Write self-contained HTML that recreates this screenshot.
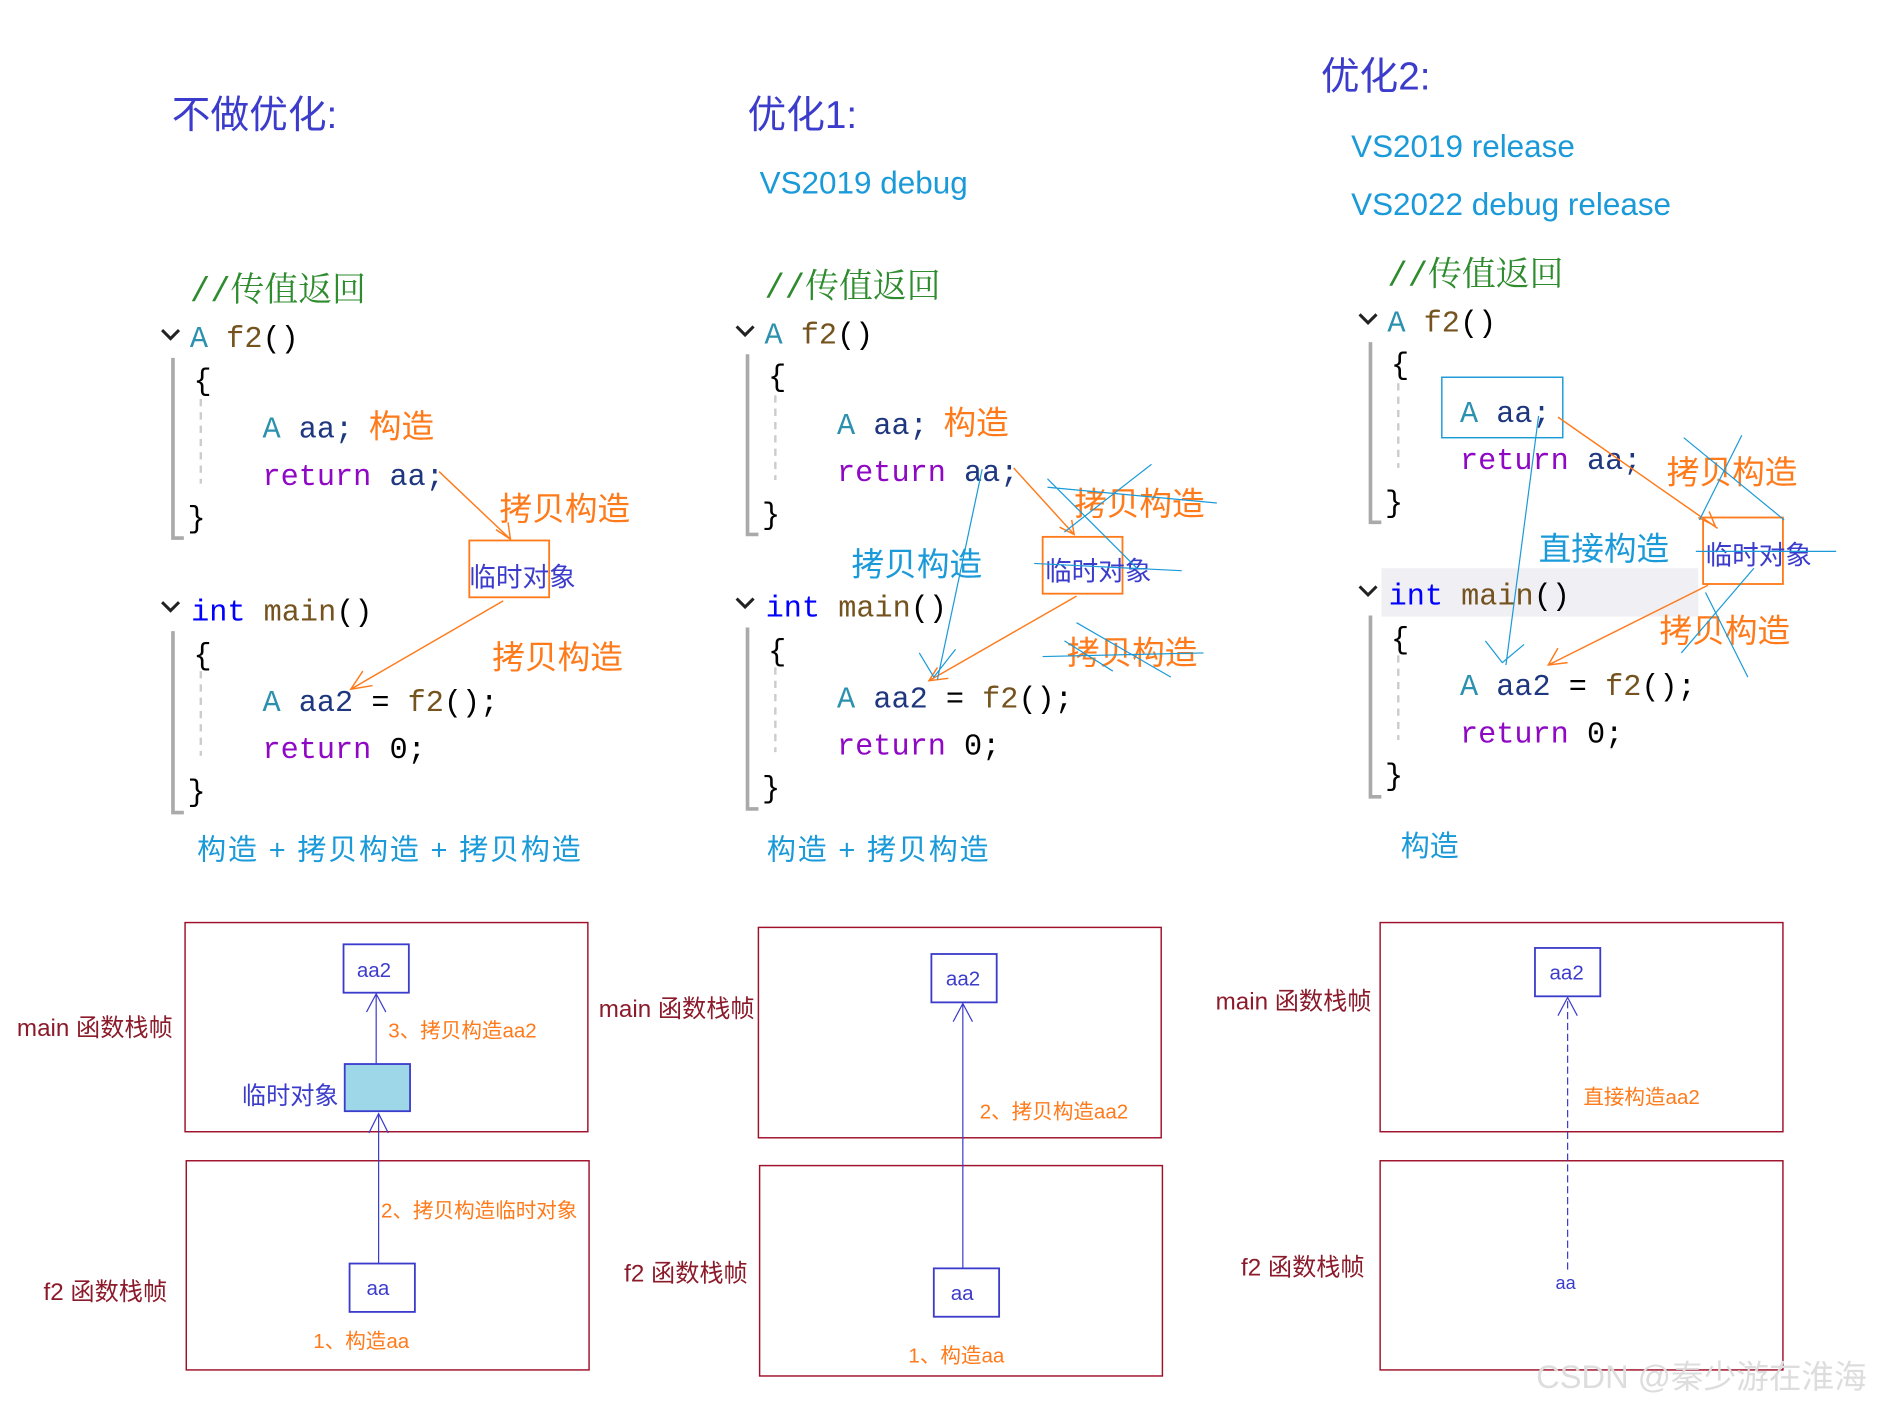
<!DOCTYPE html>
<html><head><meta charset="utf-8"><style>
html,body{margin:0;padding:0;background:#fff;}
svg{display:block}
.c{font-family:"Liberation Mono","Noto Serif CJK SC",monospace;font-size:25px;}
.cm{fill:#2e8b2e;font-family:"Liberation Mono","Noto Serif CJK SC",monospace;font-size:28px}
.ty{fill:#2b91af}.fn{fill:#74531f}.vr{fill:#1f377f}.kw{fill:#8f08c4}.in{fill:#0000ff}.pl{fill:#000}
.or{fill:#ff7a1a;font-family:"Liberation Sans","Noto Sans CJK SC",sans-serif;font-size:27px}
.bl{fill:#1a9ad8;font-family:"Liberation Sans","Noto Sans CJK SC",sans-serif;}
.pu{fill:#3c3ccc;font-family:"Liberation Sans","Noto Sans CJK SC",sans-serif;}
.dr{fill:#8b1a2a;font-family:"Liberation Sans","Noto Sans CJK SC",sans-serif;font-size:20px}
.o2{fill:#ff7a1a;font-family:"Liberation Sans","Noto Sans CJK SC",sans-serif;font-size:17px}
</style></head><body>
<svg width="1893" height="1405" viewBox="0 0 1565 1162" preserveAspectRatio="none">
<text x="142" y="106" class="pu" font-size="32">不做优化:</text>
<text x="618" y="106" class="pu" font-size="32">优化1:</text>
<text x="1092" y="74" class="pu" font-size="32">优化2:</text>
<text x="628" y="160" class="bl" font-size="26">VS2019 debug</text>
<text x="1117" y="130" class="bl" font-size="26">VS2019 release</text>
<text x="1117" y="178" class="bl" font-size="26">VS2022 debug release</text>

<rect x="1142" y="470" width="262" height="40" fill="#f0f0f4"/>

<g id="code1">
<text x="157" y="249" class="cm">//传值返回</text>
<path d="M134 273 l7 7 l7 -7" stroke="#222" stroke-width="2.5" fill="none"/>
<text x="157" y="287" class="c"><tspan class="ty">A</tspan> <tspan class="fn">f2</tspan><tspan class="pl">()</tspan></text>
<path d="M143 296 V445 H152" stroke="#aaa" stroke-width="3" fill="none"/>
<path d="M166 330 V400" stroke="#ccc" stroke-width="2" stroke-dasharray="6,5"/>
<text x="160" y="322" class="c pl">{</text>
<text x="217" y="362" class="c"><tspan class="ty">A</tspan> <tspan class="vr">aa;</tspan></text>
<text x="217" y="401" class="c"><tspan class="kw">return</tspan> <tspan class="vr">aa;</tspan></text>
<text x="155" y="436" class="c pl">}</text>
<path d="M134 498 l7 7 l7 -7" stroke="#222" stroke-width="2.5" fill="none"/>
<text x="158" y="513" class="c"><tspan class="in">int</tspan> <tspan class="fn">main</tspan><tspan class="pl">()</tspan></text>
<path d="M143 522 V672 H152" stroke="#aaa" stroke-width="3" fill="none"/>
<path d="M166 555 V625" stroke="#ccc" stroke-width="2" stroke-dasharray="6,5"/>
<text x="160" y="549" class="c pl">{</text>
<text x="217" y="588" class="c"><tspan class="ty">A</tspan> <tspan class="vr">aa2</tspan> <tspan class="pl">= </tspan><tspan class="fn">f2</tspan><tspan class="pl">();</tspan></text>
<text x="217" y="627" class="c"><tspan class="kw">return</tspan> <tspan class="pl">0;</tspan></text>
<text x="155" y="662" class="c pl">}</text>
</g>
<use href="#code1" transform="translate(475,-3)"/>
<use href="#code1" transform="translate(990,-13)"/>
<text x="305" y="362" class="or">构造</text>
<text x="780" y="359" class="or">构造</text>

<text x="413" y="430" class="or">拷贝构造</text>
<rect x="388" y="447" width="66" height="47" fill="none" stroke="#ff7a1a" stroke-width="1.5"/>
<text x="388" y="485" class="pu" font-size="22">临时对象</text>
<text x="407" y="553" class="or">拷贝构造</text>
<path d="M363 390 L422 446 M410 438 l12 8 l-2 -14" stroke="#ff7a1a" stroke-width="1.2" fill="none"/>
<path d="M416 497 L290 570 M300 555 l-10 15 l18 -3" stroke="#ff7a1a" stroke-width="1.2" fill="none"/>
<text x="163" y="711" class="bl" font-size="24" letter-spacing="1.5">构造 + 拷贝构造 + 拷贝构造</text>

<text x="888" y="426" class="or">拷贝构造</text>
<rect x="862" y="444" width="66" height="47" fill="none" stroke="#ff7a1a" stroke-width="1.5"/>
<text x="864" y="480" class="pu" font-size="22">临时对象</text>
<text x="882" y="549" class="or">拷贝构造</text>
<text x="704" y="476" class="bl" font-size="27">拷贝构造</text>
<path d="M838 387 L888 442 M876 436 l12 6 l-2 -12" stroke="#ff7a1a" stroke-width="1.2" fill="none"/>
<path d="M890 493 L768 563 M775 552 l-7 11 l16 -2" stroke="#ff7a1a" stroke-width="1.2" fill="none"/>
<path d="M812 388 L775 562 M760 540 l12 20 l18 -23" stroke="#1a9ad8" stroke-width="1" fill="none"/>
<g stroke="#1a9ad8" stroke-width="1">
<path d="M866 403 L1006 416 M880 440 L952 384 M866 396 L940 470 M855 466 L977 472 M862 543 L995 540 M890 515 L968 560 M880 530 L920 555"/>
</g>
<text x="634" y="711" class="bl" font-size="24" letter-spacing="1.5">构造 + 拷贝构造</text>

<rect x="1192" y="312" width="100" height="50" fill="none" stroke="#1a9ad8" stroke-width="1.2"/>
<text x="1378" y="400" class="or">拷贝构造</text>
<rect x="1408" y="428" width="66" height="55" fill="none" stroke="#ff7a1a" stroke-width="1.5"/>
<text x="1410" y="467" class="pu" font-size="22">临时对象</text>
<text x="1372" y="531" class="or">拷贝构造</text>
<text x="1272" y="463" class="bl" font-size="27">直接构造</text>
<path d="M1288 345 L1420 437 M1404 428 l14 7 l-5 -12" stroke="#ff7a1a" stroke-width="1.2" fill="none"/>
<path d="M1412 484 L1280 550 M1288 536 l-8 14 l16 -2" stroke="#ff7a1a" stroke-width="1.2" fill="none"/>
<path d="M1272 344 L1245 550 M1228 530 l14 18 l18 -15" stroke="#1a9ad8" stroke-width="1" fill="none"/>
<g stroke="#1a9ad8" stroke-width="1">
<path d="M1392 362 L1475 430 M1440 360 L1405 430 M1402 456 L1518 456 M1410 490 L1445 560 M1390 540 L1450 470"/>
</g>
<text x="1158" y="708" class="bl" font-size="24">构造</text>

<g fill="none" stroke="#a0102a" stroke-width="1.2">
<rect x="153" y="763" width="333" height="173"/><rect x="154" y="960" width="333" height="173"/>
<rect x="627" y="767" width="333" height="174"/><rect x="628" y="964" width="333" height="174"/>
<rect x="1141" y="763" width="333" height="173"/><rect x="1141" y="960" width="333" height="173"/>
</g>
<text x="14" y="857" class="dr">main 函数栈帧</text>
<text x="36" y="1075" class="dr">f2 函数栈帧</text>
<text x="495" y="841" class="dr">main 函数栈帧</text>
<text x="516" y="1060" class="dr">f2 函数栈帧</text>
<text x="1005" y="835" class="dr">main 函数栈帧</text>
<text x="1026" y="1055" class="dr">f2 函数栈帧</text>

<g fill="none" stroke="#3c3ccc" stroke-width="1.5">
<rect x="284" y="781" width="54" height="40"/>
<rect x="285" y="880" width="54" height="39" fill="#9ed8e8"/>
<rect x="289" y="1045" width="54" height="40"/>
<rect x="770" y="789" width="54" height="40"/>
<rect x="772" y="1049" width="54" height="40"/>
<rect x="1269" y="784" width="54" height="40"/>
</g>
<g stroke="#3c3ccc" stroke-width="1" fill="none">
<path d="M311 880 V822 M303 837 l8 -15 l8 15"/>
<path d="M313 1045 V921 M305 937 l8 -16 l8 16"/>
<path d="M796 1049 V830 M788 845 l8 -15 l8 15"/>
<path d="M1296 1050 V825" stroke-dasharray="6,3"/><path d="M1288 840 l8 -15 l8 15"/>
</g>
<text x="295" y="808" class="pu" font-size="17">aa2</text>
<text x="303" y="1071" class="pu" font-size="17">aa</text>
<text x="782" y="815" class="pu" font-size="17">aa2</text>
<text x="786" y="1075" class="pu" font-size="17">aa</text>
<text x="1281" y="810" class="pu" font-size="17">aa2</text>
<text x="1286" y="1066" class="pu" font-size="15">aa</text>
<text x="200" y="913" class="pu" font-size="20">临时对象</text>
<text x="321" y="858" class="o2">3、拷贝构造aa2</text>
<text x="315" y="1007" class="o2">2、拷贝构造临时对象</text>
<text x="259" y="1115" class="o2" font-size="19">1、构造aa</text>
<text x="810" y="925" class="o2">2、拷贝构造aa2</text>
<text x="751" y="1127" class="o2">1、构造aa</text>
<text x="1309" y="913" class="o2">直接构造aa2</text>
<text x="1270" y="1148" font-family="Liberation Sans,Noto Sans CJK SC,sans-serif" font-size="27" fill="#ddd">CSDN @秦少游在淮海</text>
</svg>
</body></html>
